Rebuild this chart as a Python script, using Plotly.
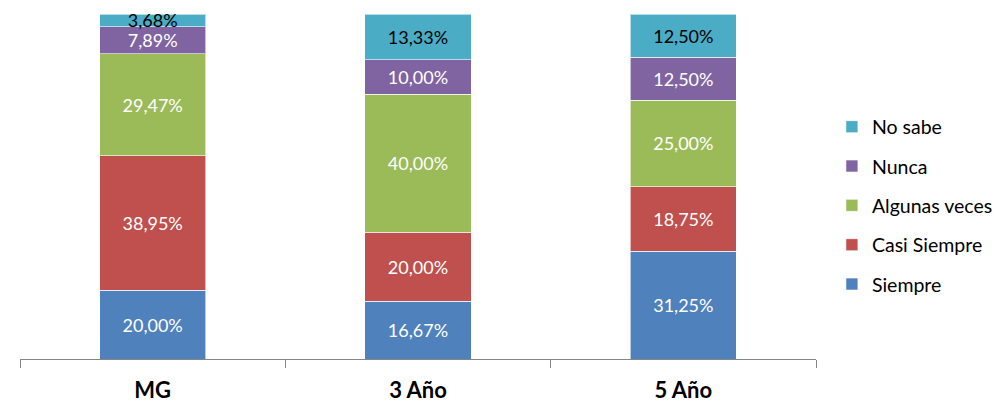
import plotly.graph_objects as go

categories = ["MG", "3 Año", "5 Año"]
series_names = ["Siempre", "Casi Siempre", "Algunas veces", "Nunca", "No sabe"]
siempre = [20.00, 16.67, 31.25]
casi_siempre = [38.95, 20.00, 18.75]
algunas_veces = [29.47, 40.00, 25.00]
nunca = [7.89, 10.00, 12.50]
no_sabe = [3.68, 13.33, 12.50]

colors = ["#4F81BD", "#C0504D", "#9BBB59", "#8064A2", "#4BACC6"]
text_colors = ["white", "white", "white", "white", "black"]
values = [siempre, casi_siempre, algunas_veces, nunca, no_sabe]

FONT = "Lato"

fig = go.Figure()
n = len(series_names)
for i, (name, vals, col, tcol) in enumerate(zip(series_names, values, colors, text_colors)):
    fig.add_trace(go.Bar(
        x=categories, y=vals, name=name,
        marker=dict(color=col, line=dict(color="rgba(255,255,255,0.6)", width=1)),
        text=[f"{v:.2f}%".replace(".", ",") for v in vals],
        textposition="inside", insidetextanchor="middle",
        constraintext="none",
        textfont=dict(family=FONT, size=18, color=tcol),
        legendgroup=name,
        legendrank=n - i,
        hoverinfo="skip",
    ))

fig.update_layout(
    barmode="stack",
    bargap=0.6,
    width=995, height=409,
    margin=dict(l=20, r=179, t=14, b=50, autoexpand=False),
    plot_bgcolor="white", paper_bgcolor="white",
    font=dict(family=FONT, color="black"),
    showlegend=True,
    legend=dict(
        traceorder="grouped",
        x=1.02, xanchor="left", xref="paper",
        y=0.445, yanchor="middle",
        font=dict(family=FONT, size=19.5, color="black"),
        tracegroupgap=11,
        itemwidth=30,
        bgcolor="rgba(0,0,0,0)",
    ),
    xaxis=dict(
        showline=True, linecolor="#868686", linewidth=1,
        ticks="outside", tickson="boundaries", ticklen=8, tickcolor="#868686",
        tickfont=dict(family=FONT, size=22, color="black", weight="bold"),
        ticklabelstandoff=12,
        showgrid=False,
    ),
    yaxis=dict(range=[0, 100], visible=False, showgrid=False),
)

fig.write_html("out.html", post_script="document.body.style.margin='0';",
               config={"displayModeBar": False})
